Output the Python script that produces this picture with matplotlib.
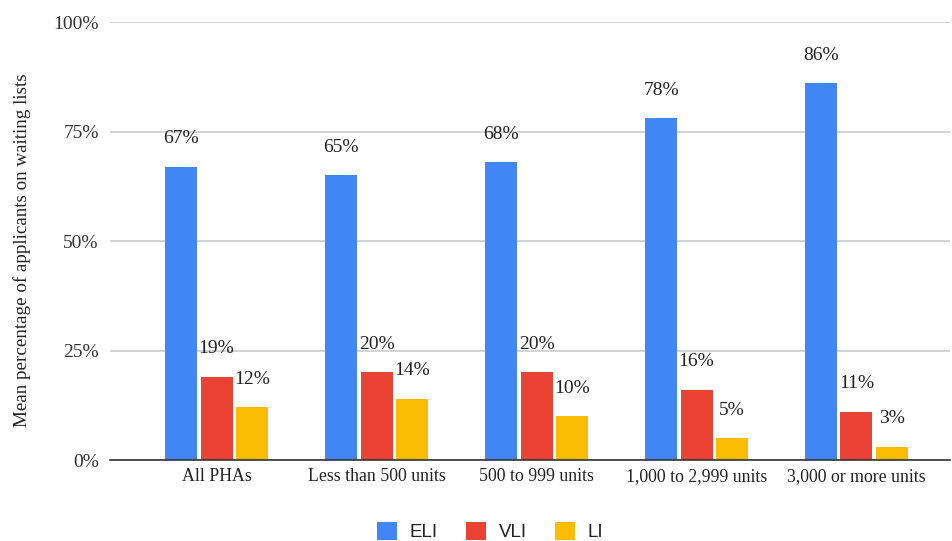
import numpy as np
import matplotlib.pyplot as plt
from matplotlib.patches import Patch

categories = ["All PHAs", "Less than 500 units", "500 to 999 units",
              "1,000 to 2,999 units", "3,000 or more units"]
series_names = ["ELI", "VLI", "LI"]
eli = [67, 65, 68, 78, 86]
vli = [19, 20, 20, 16, 11]
li = [12, 14, 10, 5, 3]
y_ticks = [0, 25, 50, 75, 100]

colors = ["#4285F4", "#EA4335", "#FBBC04"]
serif = "Liberation Serif"
sans = "Liberation Sans"


def plot_waiting_lists():
    fig = plt.figure(figsize=(9.52, 5.41), dpi=100)
    ax = fig.add_axes([0.1155, 0.1497, 0.8825, 0.8096])

    x = np.arange(len(categories))
    width = 0.2
    step = 0.22
    for i, (vals, color) in enumerate(zip([eli, vli, li], colors)):
        xs = x + (i - 1) * step
        ax.bar(xs, vals, width=width, color=color, zorder=3)
        for xi, v in zip(xs, vals):
            ax.annotate("%d%%" % v, (xi, v), xytext=(0, 17), textcoords="offset points",
                        ha="center", va="baseline", fontsize=14, family=serif,
                        color="#222222", zorder=4)

    ax.set_xlim(-0.666, 4.585)
    ax.set_ylim(0, 100)
    ax.set_yticks(y_ticks)
    ax.set_yticklabels(["%d%%" % t for t in y_ticks], family=serif, fontsize=14, color="#333333")
    ax.set_xticks(x)
    ax.set_xticklabels(categories, family=serif, fontsize=12.8, color="#222222")
    ax.tick_params(axis="both", length=0)
    ax.tick_params(axis="y", pad=8)
    ax.tick_params(axis="x", pad=6)

    ax.grid(axis="y", color="#cccccc", linewidth=1.2, zorder=0)
    for side in ["top", "right", "left"]:
        ax.spines[side].set_visible(False)
    ax.spines["bottom"].set_color("#333333")
    ax.spines["bottom"].set_linewidth(1.2)
    ax.spines["bottom"].set_zorder(5)

    ax.set_ylabel("Mean percentage of applicants on waiting lists", family=serif,
                  fontsize=13.7, color="#222222")
    ax.yaxis.set_label_coords(-0.094, 0.48)

    handles = [Patch(facecolor=c, edgecolor="none") for c in colors]
    fig.legend(handles, series_names, loc="center", bbox_to_anchor=(0.515, 0.017),
               ncol=3, frameon=False, prop={"family": sans, "size": 13.5},
               handlelength=1.05, handleheight=1.05, handletextpad=0.7,
               columnspacing=1.5, labelcolor="#222222")

    fig.savefig("out.png", dpi=100)


if __name__ == "__main__":
    plot_waiting_lists()
